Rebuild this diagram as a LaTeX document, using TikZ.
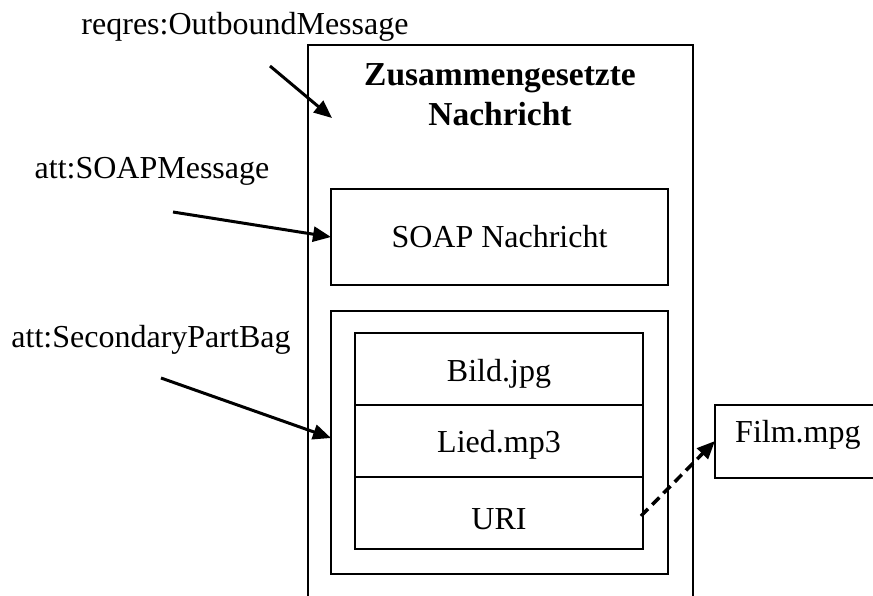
\documentclass[tikz,border=0pt]{standalone}
\usepackage{fontspec}
\setmainfont{Liberation Serif}
\usetikzlibrary{arrows.meta}
\begin{document}
\begin{tikzpicture}[x=1pt,y=-1pt,
  box/.style={draw, line width=2pt, rectangle, inner sep=0pt, outer sep=0pt},
  frame/.style={line width=2pt},
  lbl/.style={font=\fontsize{32}{36}\selectfont, inner sep=0pt},
  link/.style={line width=3pt, -{Triangle[length=18pt,width=15pt]}},
  weblink/.style={link, line width=3.5pt, dash pattern=on 10pt off 6pt}]
\useasboundingbox[fill=white] (0,0) rectangle (873,595);

% composite message container, open towards the lower edge
\node[inner sep=0pt, outer sep=0pt, minimum width=385pt, minimum height=560pt, anchor=north west] (outer) at (308,45) {};
\draw[frame, overlay] (outer.south west) -- (outer.north west) -- (outer.north east) -- (outer.south east);
\node[lbl, font=\fontsize{33.5}{40}\selectfont\bfseries, align=center] (title) at (500,95)
  {Zusammengesetzte\\Nachricht};

% SOAP part
\node[box, minimum width=337pt, minimum height=96pt, anchor=north west] (soap) at (331,189) {};
\node[lbl] (soaptxt) at (soap.center) {SOAP Nachricht};

% attachment bag
\node[box, minimum width=337pt, minimum height=263pt, anchor=north west] (bag) at (331,311) {};
\node[box, minimum width=288pt, minimum height=72pt, anchor=north west] (bild) at (355,333) {};
\node[box, minimum width=288pt, minimum height=72pt, anchor=north] (lied) at (bild.south) {};
\node[box, minimum width=288pt, minimum height=72pt, anchor=north] (uri) at (lied.south) {};
\node[lbl] (bildtxt) at ([yshift=-5pt]bild.center) {Bild.jpg};
\node[lbl] (liedtxt) at ([yshift=-4pt]lied.center) {Lied.mp3};
\node[lbl] (uritxt) at ([yshift=-6pt]uri.center) {URI};

% external resource, open towards the right edge
\node[inner sep=0pt, outer sep=0pt, minimum width=170pt, minimum height=73pt, anchor=north west] (film) at (715,405) {};
\draw[frame, overlay] (film.north east) -- (film.north west) -- (film.south west) -- (film.south east);
\node[lbl, anchor=west] (filmtxt) at (735,435) {Film.mpg};

% role labels
\node[lbl] (lreq) at (245,27) {reqres:OutboundMessage};
\node[lbl] (lsoap) at (152,171) {att:SOAPMessage};
\node[lbl] (lbag) at (151,340) {att:SecondaryPartBag};

\coordinate (sreq) at (270,66);
\coordinate (ssoap) at (173,212);
\coordinate (sbag) at (161,378);
\coordinate (suri) at (641,516);

\draw[link] (sreq) -- (332,118);
\draw[link] (ssoap) -- (soap.west);
\draw[link] (sbag) -- (bag.west |- 0,438);
\draw[weblink] (suri) -- (film.west |- 0,441);
\end{tikzpicture}
\end{document}
